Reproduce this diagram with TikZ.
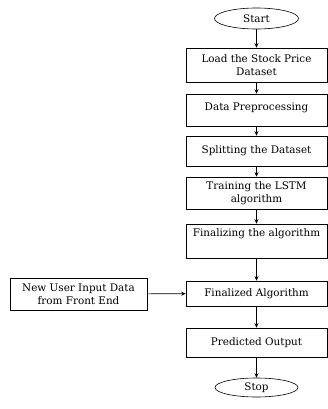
\documentclass[tikz,border=0pt]{standalone}
\usepackage{fontspec}
\setmainfont{DejaVu Serif}
\usetikzlibrary{arrows.meta, shapes.geometric}
\tikzset{%
    sec/.style={line width = 0.6pt},
    seca/.style={line width = 0.6pt, -{Stealth[length=4.5pt, width=4pt]}},
    blk/.style={rectangle, draw, line width = 0.6pt, minimum width=141pt, align=center, inner sep=1pt},
    term/.style={ellipse, draw, line width = 0.6pt, inner sep=0pt},
}

\begin{document}
\begin{tikzpicture}[x=1pt, y=-1pt, font=\fontsize{10.4}{12.8}\selectfont]
    \useasboundingbox (0,0) rectangle (327,409);
    \node[term, minimum width=84pt, minimum height=21pt] (start) at (256.5,18.5) {Start};
    \node[blk, minimum height=34pt] (load) at (256.5,65) {Load the Stock Price\\Dataset};
    \node[blk, minimum height=32pt, text depth=6pt] (prep) at (256.5,110) {Data Preprocessing};
    \node[blk, minimum height=30pt] (split) at (256.5,151) {Splitting the Dataset};
    \node[blk, minimum height=32pt] (train) at (256.5,193) {Training the LSTM\\algorithm};
    \node[blk, minimum height=34pt, text depth=17pt] (final) at (256.5,241) {Finalizing the algorithm};
    \node[blk, minimum height=25pt] (algo) at (256.5,293.5) {Finalized Algorithm};
    \node[blk, minimum width=137pt, minimum height=32pt] (input) at (78.5,294) {New User Input Data\\from Front End};
    \node[blk, minimum height=29pt] (out) at (256.5,342.5) {Predicted Output};
    \node[term, minimum width=83pt, minimum height=19pt] (stop) at (256.5,387.5) {Stop};
    % main flow
    \draw [seca] (start) -- (load);
    \draw [seca] (load) -- (prep);
    \draw [seca] (prep) -- (split);
    \draw [seca] (split) -- (train);
    \draw [seca] (train) -- (final);
    \draw [seca] (final) -- (algo);
    \draw [seca] (algo) -- (out);
    \draw [seca] (out) -- (stop);
    \draw [seca] (input) -- (algo);
\end{tikzpicture}
\end{document}
